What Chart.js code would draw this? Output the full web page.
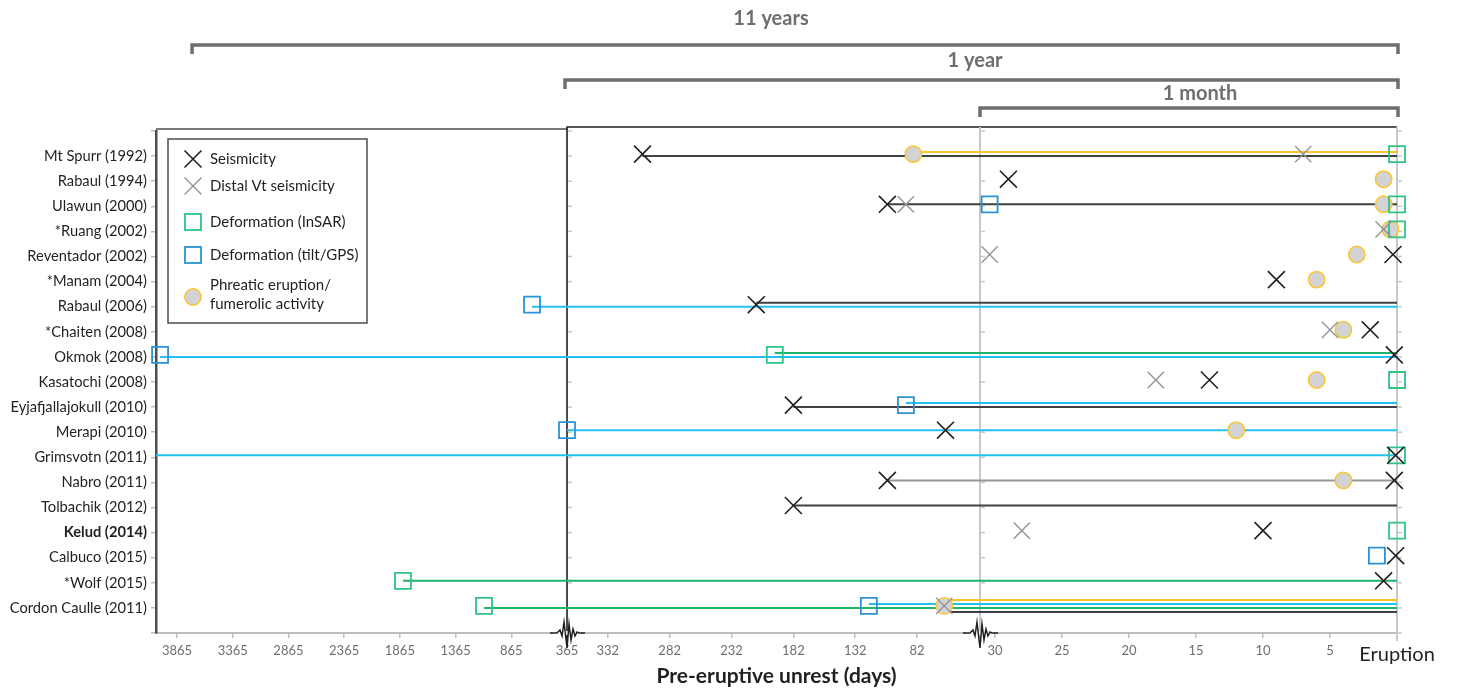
<!DOCTYPE html>
<html><head><meta charset="utf-8">
<script src="https://cdn.jsdelivr.net/npm/chart.js@4.4.1/dist/chart.umd.min.js"></script>
<style>html,body{margin:0;padding:0;background:#fff}canvas{display:block}</style>
</head><body>
<canvas id="c" width="1457" height="689"></canvas>
<script>
// ---------- DATA ----------
const volcanoes = ['Mt Spurr (1992)','Rabaul (1994)','Ulawun (2000)','*Ruang (2002)','Reventador (2002)','*Manam (2004)','Rabaul (2006)','*Chaiten (2008)','Okmok (2008)','Kasatochi (2008)','Eyjafjallajokull (2010)','Merapi (2010)','Grimsvotn (2011)','Nabro (2011)','Tolbachik (2012)','Kelud (2014)','Calbuco (2015)','*Wolf (2015)','Cordon Caulle (2011)'];
const highlighted = 'Kelud (2014)';
const tickDays = [3865,3365,2865,2365,1865,1365,865,365,332,282,232,182,132,82,30,25,20,15,10,5,0];
const tickLabels = ['3865','3365','2865','2365','1865','1365','865','365','332','282','232','182','132','82','30','25','20','15','10','5','Eruption'];

// markers: [volcano, days before eruption]
const seismicity = [['Mt Spurr (1992)',304],['Rabaul (1994)',29],['Ulawun (2000)',106],['Reventador (2002)',0.3],['*Manam (2004)',9],['Rabaul (2006)',212],['*Chaiten (2008)',2],['Okmok (2008)',0.2],['Kasatochi (2008)',14],['Eyjafjallajokull (2010)',182],['Merapi (2010)',59],['Grimsvotn (2011)',0.1],['Nabro (2011)',106],['Nabro (2011)',0.2],['Tolbachik (2012)',182],['Kelud (2014)',10],['Calbuco (2015)',0.1],['*Wolf (2015)',1]];
const distalVt = [['Mt Spurr (1992)',7],['Ulawun (2000)',91],['*Ruang (2002)',1],['Reventador (2002)',30.4],['*Chaiten (2008)',5],['Kasatochi (2008)',18],['Kelud (2014)',28],['Cordon Caulle (2011)',60]];
const insar = [['Mt Spurr (1992)',0],['Ulawun (2000)',0],['*Ruang (2002)',0],['Okmok (2008)',197],['Kasatochi (2008)',0],['Grimsvotn (2011)',0],['Kelud (2014)',0],['*Wolf (2015)',1837],['Cordon Caulle (2011)',1110]];
const tiltGps = [['Ulawun (2000)',30.4],['Rabaul (2006)',679],['Okmok (2008)',4017],['Eyjafjallajokull (2010)',91],['Merapi (2010)',365],['Calbuco (2015)',1.5],['Cordon Caulle (2011)',121]];
const phreatic = [['Mt Spurr (1992)',85],['Rabaul (1994)',1],['Ulawun (2000)',1],['*Ruang (2002)',0.5],['Reventador (2002)',3],['*Manam (2004)',6],['*Chaiten (2008)',4],['Kasatochi (2008)',6],['Merapi (2010)',12],['Nabro (2011)',4],['Cordon Caulle (2011)',60]];
// continuing unrest until eruption: [volcano, start (days), kind]  (listed top-to-bottom within a row)
const unrestLines = [
  ['Mt Spurr (1992)',85,'phreatic'],['Mt Spurr (1992)',304,'seismic'],
  ['Ulawun (2000)',106,'seismic'],
  ['Rabaul (2006)',212,'seismic'],['Rabaul (2006)',679,'tilt'],
  ['Okmok (2008)',197,'insar'],['Okmok (2008)',4017,'tilt'],
  ['Eyjafjallajokull (2010)',91,'tilt'],['Eyjafjallajokull (2010)',182,'seismic'],
  ['Merapi (2010)',365,'tilt'],
  ['Grimsvotn (2011)',4400,'tilt'],
  ['Nabro (2011)',106,'distal'],
  ['Tolbachik (2012)',182,'seismic'],
  ['*Wolf (2015)',1837,'insar'],
  ['Cordon Caulle (2011)',60,'phreatic'],['Cordon Caulle (2011)',121,'tilt'],['Cordon Caulle (2011)',1110,'insar'],['Cordon Caulle (2011)',60,'seismic']
];

// ---------- STYLE / SCALE ----------
const FONT = 'Lato, "Open Sans", sans-serif';
const C = {
  seismic:'#231f20', distal:'#939598', insar:'#2fc386', tilt:'#2a93d5', circleBorder:'#fdc52f', circleFill:'#d1d3d4',
  lineSeismic:'#414042', lineDistal:'#939598', lineInsar:'#1fb46c', lineTilt:'#22c1f0', linePhreatic:'#fcc12d'
};
const lineColor = {seismic:C.lineSeismic, distal:C.lineDistal, insar:C.lineInsar, tilt:C.lineTilt, phreatic:C.linePhreatic};
// piecewise (broken) time axis: 0-31 d, 31-365 d, >365 d
const BRK1 = 31.12, BRK2 = 365, S1 = 13.4, S2 = 1.2369, S3 = 0.11143;
function u(d){
  if (d <= BRK1) return -S1*d;
  if (d <= BRK2) return -S1*BRK1 - (d-BRK1)*S2;
  return -S1*BRK1 - (BRK2-BRK1)*S2 - (d-BRK2)*S3;
}
const X_MIN = -1241, ROWS = 20;
const rowOf = n => volcanoes.indexOf(n) + 1;
const PX_PER_ROW = 25.1;
const MARK_OFF = -2/PX_PER_ROW;

function markerSet(arr, opts){
  return Object.assign({
    type:'scatter', data: arr.map(([n,d]) => ({x:u(d), y:rowOf(n)+MARK_OFF})),
    showLine:false, clip:false, pointHoverRadius: opts.pointRadius, pointHoverBorderWidth: opts.pointBorderWidth
  }, opts);
}
const datasets = [];
const byRow = {};
unrestLines.forEach(l => { (byRow[l[0]] = byRow[l[0]] || []).push(l); });
Object.values(byRow).forEach(list => {
  const n = list.length;
  list.forEach((l, i) => {
    const offPx = (i - (n-1)/2)*4 - 2;
    const y = rowOf(l[0]) + offPx/PX_PER_ROW;
    datasets.push({type:'scatter', data:[{x:u(l[1]), y},{x:0, y}], showLine:true, borderColor:lineColor[l[2]], borderWidth:2,
      pointRadius:0, pointHoverRadius:0, clip:{left:0, top:false, right:false, bottom:false}, order:10});
  });
});
datasets.push(markerSet(phreatic, {pointStyle:'circle', pointRadius:8.2, pointBorderWidth:1.5, pointBorderColor:C.circleBorder, pointBackgroundColor:C.circleFill, order:5}));
datasets.push(markerSet(tiltGps, {pointStyle:'rect', pointRadius:11.3, pointBorderWidth:1.8, pointBorderColor:C.tilt, pointBackgroundColor:'rgba(255,255,255,0)', order:4}));
datasets.push(markerSet(insar, {pointStyle:'rect', pointRadius:11.3, pointBorderWidth:1.8, pointBorderColor:C.insar, pointBackgroundColor:'rgba(255,255,255,0)', order:3}));
datasets.push(markerSet(distalVt, {pointStyle:'crossRot', pointRadius:11.5, pointBorderWidth:1.4, pointBorderColor:C.distal, order:2}));
datasets.push(markerSet(seismicity, {pointStyle:'crossRot', pointRadius:12, pointBorderWidth:1.6, pointBorderColor:C.seismic, order:1}));

// ---------- DECORATION PLUGIN ----------
function bracket(ctx, x1, x2, y, label, tx, ty){
  ctx.save();
  ctx.strokeStyle = '#6d6e71'; ctx.lineWidth = 3.5; ctx.lineCap = 'butt';
  ctx.beginPath(); ctx.moveTo(x1, y+9); ctx.lineTo(x1, y); ctx.lineTo(x2, y); ctx.lineTo(x2, y+9); ctx.stroke();
  ctx.fillStyle = '#6d6e71'; ctx.font = 'bold 20px ' + FONT; ctx.textAlign='center'; ctx.textBaseline='middle';
  ctx.fillText(label, tx, ty);
  ctx.restore();
}
function wiggle(ctx, cx, cy){
  ctx.save();
  ctx.fillStyle = '#fff'; ctx.fillRect(cx-14, cy-2, 28, 4);
  const pts = [[-17,0],[-10,0],[-7,-3],[-5,3],[-3,-11],[0,15],[2,-9],[4,7],[6,-4],[8,3],[10,-1],[12,0],[18,0]];
  ctx.strokeStyle = '#231f20'; ctx.lineWidth = 1.5; ctx.lineJoin='miter';
  ctx.beginPath(); pts.forEach(([dx,dy],i)=> i ? ctx.lineTo(cx+dx, cy+dy) : ctx.moveTo(cx+dx, cy+dy)); ctx.stroke();
  ctx.restore();
}
const decor = {
  id:'decor',
  beforeDatasetsDraw(chart){
    const {ctx, chartArea:a, scales:{x, y}} = chart;
    const xYear = x.getPixelForValue(u(BRK2)), xMonth = x.getPixelForValue(u(BRK1)), xEr = x.getPixelForValue(0);
    ctx.save();
    ctx.strokeStyle = '#4d4d4f'; ctx.lineWidth = 1.5;
    ctx.beginPath(); ctx.moveTo(a.left, a.top-2); ctx.lineTo(xYear, a.top-2); ctx.stroke();
    ctx.strokeStyle = '#231f20'; ctx.lineWidth = 1.6;
    ctx.beginPath(); ctx.moveTo(xYear, a.bottom+8); ctx.lineTo(xYear, a.top-4); ctx.lineTo(xEr, a.top-4); ctx.stroke();
    ctx.strokeStyle = '#c7c8ca'; ctx.lineWidth = 2;
    ctx.beginPath(); ctx.moveTo(xMonth, a.top-4); ctx.lineTo(xMonth, a.bottom+8); ctx.stroke();
    ctx.beginPath(); ctx.moveTo(xEr, a.top-4); ctx.lineTo(xEr, a.bottom+8); ctx.stroke();
    ctx.strokeStyle = '#c7c8ca'; ctx.lineWidth = 1.5;
    for (let r = 0; r <= ROWS; r++){
      const py = y.getPixelForValue(r);
      [xYear, xMonth, xEr].forEach(px => { ctx.beginPath(); ctx.moveTo(px+1, py); ctx.lineTo(px+5, py); ctx.stroke(); });
    }
    ctx.restore();
  },
  afterDraw(chart){
    const {ctx, chartArea:a, scales:{x}} = chart;
    const xYear = x.getPixelForValue(u(BRK2)), xMonth = x.getPixelForValue(u(BRK1)), xEr = x.getPixelForValue(0);
    wiggle(ctx, xYear, a.bottom);
    wiggle(ctx, xMonth, a.bottom);
    bracket(ctx, x.getPixelForValue(u(3730)), xEr+1, a.top-86, '11 years', 771, 19);
    bracket(ctx, xYear-2, xEr+1, a.top-51, '1 year', 975, 61);
    bracket(ctx, xMonth, xEr+1, a.top-23, '1 month', 1200, 94);
    ctx.save();
    const L = a.left+12, T = a.top+8, W = 199, H = 184;
    ctx.fillStyle = '#fff'; ctx.fillRect(L, T, W, H);
    ctx.strokeStyle = '#4d4d4f'; ctx.lineWidth = 1.5; ctx.strokeRect(L, T, W, H);
    const mx = L+25, tx = L+42;
    const drawX = (cx, cy, col, lw) => { ctx.strokeStyle = col; ctx.lineWidth = lw; ctx.beginPath();
      ctx.moveTo(cx-8.5, cy-8.5); ctx.lineTo(cx+8.5, cy+8.5); ctx.moveTo(cx+8.5, cy-8.5); ctx.lineTo(cx-8.5, cy+8.5); ctx.stroke(); };
    const drawSq = (cx, cy, col) => { ctx.strokeStyle = col; ctx.lineWidth = 1.8; ctx.strokeRect(cx-8, cy-8, 16, 16); };
    drawX(mx, T+20, C.seismic, 1.6);
    drawX(mx, T+47, C.distal, 1.4);
    drawSq(mx, T+83, C.insar);
    drawSq(mx, T+116, C.tilt);
    ctx.beginPath(); ctx.arc(mx, T+158, 8.2, 0, Math.PI*2); ctx.fillStyle = C.circleFill; ctx.fill();
    ctx.strokeStyle = C.circleBorder; ctx.lineWidth = 1.5; ctx.stroke();
    ctx.fillStyle = '#231f20'; ctx.font = '15px ' + FONT; ctx.textAlign = 'left'; ctx.textBaseline = 'middle';
    ctx.fillText('Seismicity', tx, T+20);
    ctx.fillText('Distal Vt seismicity', tx, T+47);
    ctx.fillText('Deformation (InSAR)', tx, T+83);
    ctx.fillText('Deformation (tilt/GPS)', tx, T+116);
    ctx.fillText('Phreatic eruption/', tx, T+146);
    ctx.fillText('fumerolic activity', tx, T+165);
    ctx.restore();
  }
};

// ---------- CHART ----------
const isEruptionTick = c => c && c.tick && c.tick.value === 0;
new Chart(document.getElementById('c'), {
  type:'scatter',
  data:{datasets},
  options:{
    responsive:false, animation:false, devicePixelRatio:1,
    layout:{padding:{top:131, right:60, left:0, bottom:0}},
    plugins:{legend:{display:false}, tooltip:{enabled:false}},
    scales:{
      x:{
        type:'linear', min:X_MIN, max:0,
        afterBuildTicks: s => { s.ticks = tickDays.map(d => ({value:u(d)})); },
        afterFit: s => { s.height = 56; },
        grid:{drawOnChartArea:false, drawTicks:true, tickLength:5, color:'#bcbec0', lineWidth:1.5},
        border:{display:true, color:'#bcbec0', width:2},
        ticks:{
          autoSkip:false, maxRotation:0, padding:5,
          callback:(v, i) => tickLabels[i],
          font: c => isEruptionTick(c) ? {family:FONT, size:20} : {family:FONT, size:13},
          color: c => isEruptionTick(c) ? '#231f20' : '#6d6e71'
        },
        title:{display:true, text:'Pre-eruptive unrest (days)', color:'#231f20', font:{family:FONT, size:21, weight:'bold'}, padding:{top:0, bottom:0}}
      },
      y:{
        type:'linear', min:0, max:ROWS, reverse:true,
        afterBuildTicks: s => { s.ticks = Array.from({length:ROWS+1}, (_, i) => ({value:i})); },
        afterFit: s => { s.width = 156; },
        grid:{drawOnChartArea:false, drawTicks:true, tickLength:5, color:'#bcbec0', lineWidth:1.5},
        border:{display:true, color:'#4d4d4f', width:2.5},
        ticks:{
          autoSkip:false, padding:4,
          callback: v => volcanoes[v-1] || '',
          font: c => ({family:FONT, size:14.7, weight: (c && c.tick && volcanoes[c.tick.value-1] === highlighted) ? 'bold' : 'normal'}),
          color:'#231f20'
        }
      }
    }
  },
  plugins:[decor]
});
</script>
</body></html>
